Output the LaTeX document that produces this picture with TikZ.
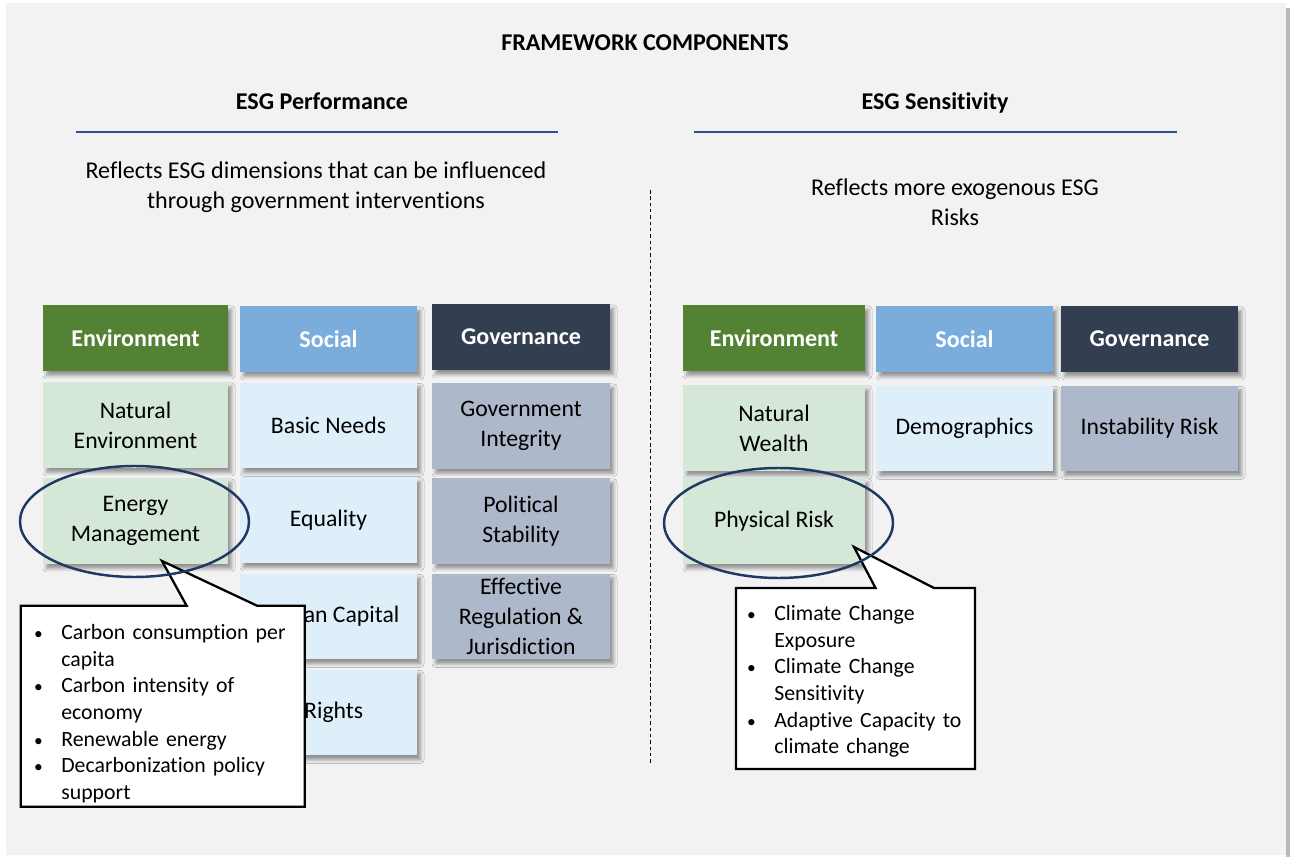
\documentclass[tikz,border=0pt]{standalone}
\usepackage{fontspec}
\setmainfont{Carlito}[Ligatures=NoCommon]
\usetikzlibrary{shadows.blur}

\definecolor{bggray}{HTML}{F2F2F2}
\definecolor{envdark}{HTML}{548235}
\definecolor{envlight}{HTML}{D5E8D7}
\definecolor{socdark}{HTML}{7AACDC}
\definecolor{soclight}{HTML}{DEEFF9}
\definecolor{govdark}{HTML}{333F50}
\definecolor{govlight}{HTML}{ADB9CA}
\definecolor{rulecol}{HTML}{2F528F}
\definecolor{ringcol}{HTML}{1F3864}

% one bullet of a callout, wrapped lines hang under the text
\newcommand{\bul}[1]{\par\hangindent=0.58cm\hangafter=1\noindent
  \makebox[0.58cm][l]{\hspace{1pt}\scalebox{0.8}{\textbullet}}#1\par}

\tikzset{
  tile/.style={inner sep=0pt, align=center,
    blur shadow={shadow xshift=2pt, shadow yshift=-2.5pt, shadow blur radius=2pt, shadow opacity=40},
    font=\fontsize{13.5}{17}\selectfont},
  hdr/.style={tile, text=white, font=\fontsize{13.7}{17}\selectfont\bfseries, minimum height=1.32cm},
  cell/.style={tile, minimum height=1.72cm},
  envcol/.style={minimum width=3.70cm},
  soccol/.style={minimum width=3.54cm},
  govcol/.style={minimum width=3.56cm},
  envcolr/.style={minimum width=3.64cm},
  heading/.style={font=\fontsize{13.7}{17}\selectfont\bfseries},
  blurb/.style={align=center, font=\fontsize{13.7}{17}\selectfont},
  headrule/.style={rulecol, line width=1.2pt},
  ring/.style={ringcol, line width=1.4pt},
  callout/.style={fill=white, draw=black, line width=1.3pt, line join=miter},
  tips/.style={anchor=north west, inner sep=0pt, text width=6cm,
    font=\fontsize{12.4}{15.1}\selectfont\raggedright}
}

\begin{document}
\begin{tikzpicture}[x=0.02cm, y=-0.02cm]
\useasboundingbox (0,0) rectangle (1290,857);

% page
\fill[gray!55] (1286,8) rectangle (1290,857);
\fill[bggray] (6,3) rectangle (1286,855);

% titles
\node[heading] (title) at (645,43) {FRAMEWORK COMPONENTS};
\node[heading] (perf) at (322,101) {ESG Performance};
\node[heading] (sens) at (935,103) {ESG Sensitivity};
\draw[headrule] (76,132) -- (558,132);
\draw[headrule] (694,132) -- (1177,132);
\node[blurb] (perfdesc) at (316,187) {Reflects ESG dimensions that can be influenced\\through government interventions};
\node[blurb] (sensdesc) at (955,202) {Reflects more exogenous ESG\\Risks};

\draw[dashed, dash pattern=on 2pt off 1.6pt, line width=0.5pt] (650,190) -- (650,765);

% ESG Performance grid
\node[hdr, envcol, fill=envdark] (penvh) at (135.5,338) {Environment};
\node[hdr, soccol, fill=socdark] (psoch) at (328.5,339) {Social};
\node[hdr, govcol, fill=govdark] (pgovh) at (521,337) {Governance};

\node[cell, envcol, fill=envlight] (penv1) at (135.5,425) {Natural\\Environment};
\node[cell, envcol, fill=envlight] (penv2) at (135.5,521) {Energy\\Management};

\node[cell, soccol, fill=soclight] (psoc1) at (328.5,425.5) {Basic Needs};
\node[cell, soccol, fill=soclight] (psoc2) at (328.5,520) {Equality};
\node[cell, soccol, fill=soclight] (psoc3) at (328.5,616.5) {Human Capital};
\node[cell, soccol, fill=soclight] (psoc4) at (328.5,712.5) {\hspace*{-1.3cm}Human Rights};

\node[cell, govcol, fill=govlight] (pgov1) at (521,426) {Government\\Integrity};
\node[cell, govcol, fill=govlight] (pgov2) at (521,521) {Political\\Stability};
\node[cell, govcol, fill=govlight] (pgov3) at (521,616.5) {Effective\\Regulation \&\\Jurisdiction};

% ESG Sensitivity grid
\node[hdr, envcolr, fill=envdark] (senvh) at (774,338) {Environment};
\node[hdr, soccol, fill=socdark] (ssoch) at (964.5,339) {Social};
\node[hdr, soccol, fill=govdark] (sgovh) at (1149.5,339) {Governance};

\node[cell, envcolr, fill=envlight] (senv1) at (774,428) {Natural\\Wealth};
\node[cell, envcolr, fill=envlight] (senv2) at (774,521) {Physical Risk};
\node[cell, soccol, fill=soclight] (ssoc1) at (964.5,428.5) {Demographics};
\node[cell, soccol, fill=govlight] (sgov1) at (1149.5,428.5) {Instability Risk};

% callouts
\coordinate (tipA) at (162,561);
\coordinate (tipB) at (854,547);
\draw[callout] (20.7,605.7) -- (186.6,605.7) -- (tipA) -- (257,605.7) -- (304.7,605.7)
  -- (304.7,806.7) -- (20.7,806.7) -- cycle;
\draw[callout] (736,588) -- (875.5,588) -- (tipB) -- (934,588) -- (975,588)
  -- (975,769) -- (736,769) -- cycle;

\node[tips] (tipsA) at (32,613) {\bul{Carbon consumption per\newline capita}
  \bul{Carbon intensity of\newline economy}
  \bul{Renewable energy}
  \bul{Decarbonization policy\newline support}};
\node[tips] (tipsB) at (745,594) {\bul{Climate Change\newline Exposure}
  \bul{Climate Change\newline Sensitivity}
  \bul{Adaptive Capacity to\newline climate change}};

% rings round the picked tiles
\draw[ring] (134.5,521.5) ellipse [x radius=114.5, y radius=55.5];
\draw[ring] (778.5,523) ellipse [x radius=114.5, y radius=55];

\end{tikzpicture}
\end{document}
